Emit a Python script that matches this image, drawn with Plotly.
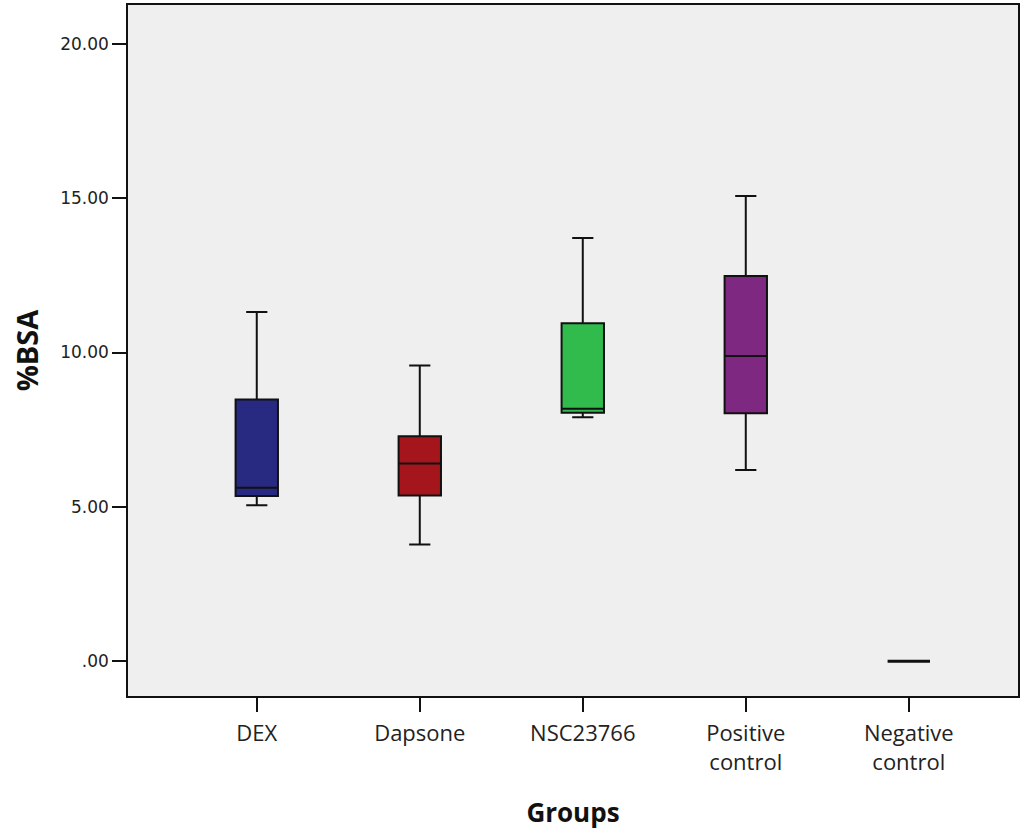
import plotly.graph_objects as go

groups = ["DEX", "Dapsone", "NSC23766", "Positive<br>control", "Negative<br>control"]
lower_whisker = [5.05, 3.78, 7.90, 6.19, 0.0]
q1_values = [5.35, 5.37, 8.05, 8.03, 0.0]
median_values = [5.62, 6.40, 8.18, 9.89, 0.0]
q3_values = [8.48, 7.29, 10.95, 12.48, 0.0]
upper_whisker = [11.31, 9.58, 13.71, 15.07, 0.0]
colors = ["#272a80", "#a5161c", "#30bb4c", "#7f2882", "#000000"]
y_ticks = [0, 5, 10, 15, 20]
y_tick_text = [".00", "5.00", "10.00", "15.00", "20.00"]

fig = go.Figure()
for i, g in enumerate(groups):
    fig.add_trace(go.Box(
        x=[i],
        q1=[q1_values[i]],
        median=[median_values[i]],
        q3=[q3_values[i]],
        lowerfence=[lower_whisker[i]],
        upperfence=[upper_whisker[i]],
        fillcolor=colors[i],
        line=dict(color="#111111", width=2 if i < 4 else 3),
        width=0.26,
        whiskerwidth=0.5,
        boxpoints=False,
        showlegend=False,
        hoverinfo="skip",
    ))

fig.update_layout(
    width=1023, height=835,
    margin=dict(l=128, r=3, t=5, b=139),
    paper_bgcolor="white",
    plot_bgcolor="#efefef",
    font=dict(family="DejaVu Sans", color="#222222"),
)
fig.update_xaxes(
    range=[-0.79, 4.67],
    tickmode="array",
    tickvals=list(range(len(groups))),
    ticktext=groups,
    ticks="outside", ticklen=14, tickwidth=1.5, tickcolor="#111111",
    ticklabelstandoff=3,
    tickfont=dict(family="Open Sans", size=22, color="#222222"),
    showline=True, linecolor="#111111", linewidth=1.5, mirror=True,
    showgrid=False, zeroline=False,
    title=dict(text="<b>Groups</b>", font=dict(family="Open Sans", size=26, color="#111111"), standoff=29),
)
fig.update_yaxes(
    range=[-1.13, 21.26],
    tickmode="array",
    tickvals=y_ticks,
    ticktext=y_tick_text,
    ticks="outside", ticklen=14, tickwidth=1.5, tickcolor="#111111",
    tickfont=dict(family="DejaVu Sans", size=17, color="#222222"),
    showline=True, linecolor="#111111", linewidth=1.5, mirror=True,
    showgrid=False, zeroline=False,
    title=dict(text="<b>%BSA</b>", font=dict(family="Open Sans", size=29, color="#111111"), standoff=13),
)

fig.write_html("out.html", config={"displayModeBar": False},
               post_script="document.body.style.margin='0px';")
